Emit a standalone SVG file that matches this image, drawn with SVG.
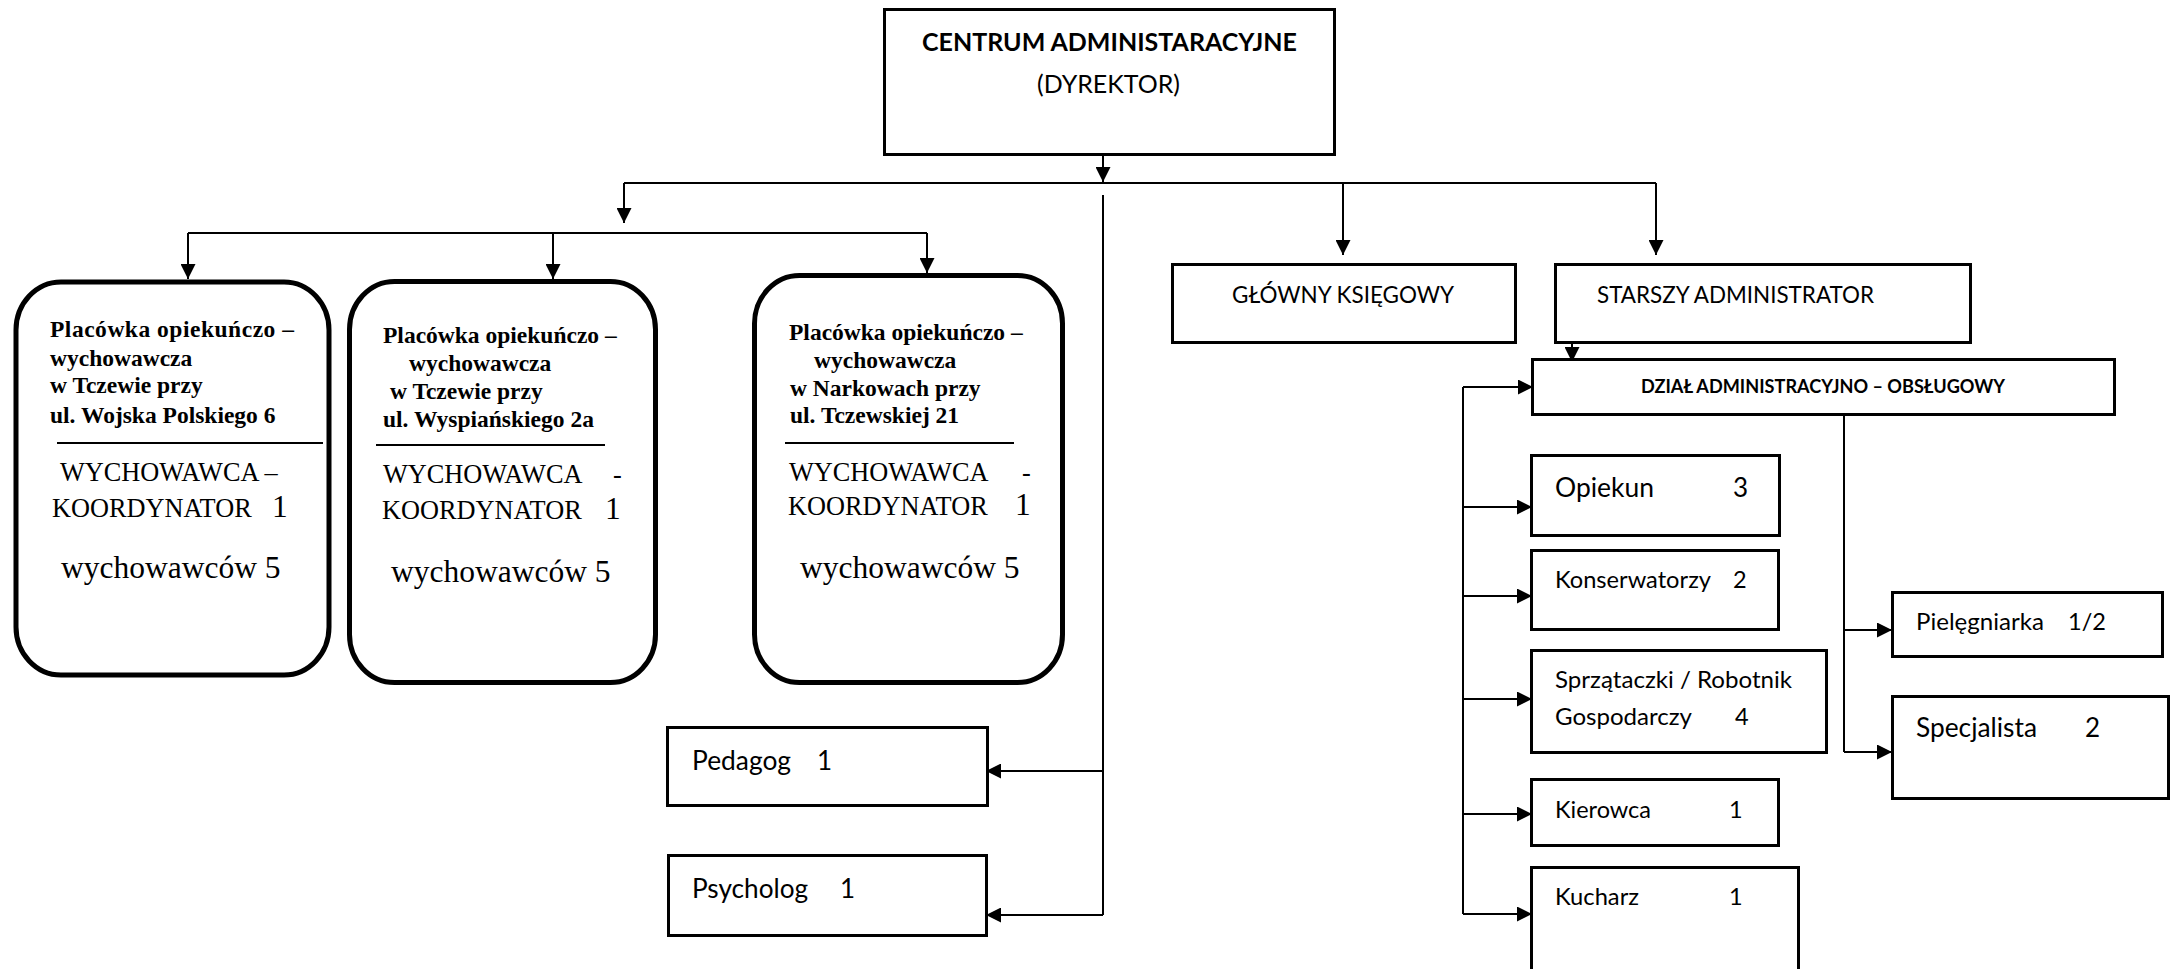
<svg xmlns="http://www.w3.org/2000/svg" width="2174" height="969" viewBox="0 0 2174 969">
<style>
.bx{fill:#fff;stroke:#000;stroke-width:3}
.rb{fill:#fff;stroke:#000;stroke-width:5}
.sep{stroke:#000;stroke-width:2}
.c{fill:none;stroke:#000;stroke-width:2}
.s{font-family:Lato,"Open Sans","Liberation Sans",sans-serif;fill:#000}
.sb{font-family:Lato,"Open Sans","Liberation Sans",sans-serif;font-weight:bold;fill:#000}
.tb{font-family:"Liberation Serif","Times New Roman",serif;font-weight:bold;font-size:23.5px;fill:#000}
.tr{font-family:"Liberation Serif","Times New Roman",serif;font-size:26.3px;fill:#000}
.tw{font-family:"Liberation Serif","Times New Roman",serif;font-size:31.5px;fill:#000}
</style>
<defs>
<marker id="arr" markerUnits="userSpaceOnUse" markerWidth="15" markerHeight="15" refX="15" refY="7.5" orient="auto">
<path d="M0,0 L15,7.5 L0,15 Z" fill="#000"/>
</marker>
</defs>

<g id="connectors">
<path class="c" d="M1103 147 V182" marker-end="url(#arr)"/>
<path class="c" d="M624 183 H1656"/>
<path class="c" d="M624 183 V223" marker-end="url(#arr)"/>
<path class="c" d="M188 233 H927"/>
<path class="c" d="M188 233 V279" marker-end="url(#arr)"/>
<path class="c" d="M553 233 V279" marker-end="url(#arr)"/>
<path class="c" d="M927 233 V273" marker-end="url(#arr)"/>
<path class="c" d="M1103 195 V915"/>
<path class="c" d="M1103 771 H986" marker-end="url(#arr)"/>
<path class="c" d="M1103 915 H986" marker-end="url(#arr)"/>
<path class="c" d="M1343 183 V255" marker-end="url(#arr)"/>
<path class="c" d="M1656 183 V255" marker-end="url(#arr)"/>
<path class="c" d="M1572 339 V362" marker-end="url(#arr)"/>
<path class="c" d="M1463 387 V914"/>
<path class="c" d="M1463 387 H1533" marker-end="url(#arr)"/>
<path class="c" d="M1463 507 H1532" marker-end="url(#arr)"/>
<path class="c" d="M1463 596 H1532" marker-end="url(#arr)"/>
<path class="c" d="M1463 699 H1532" marker-end="url(#arr)"/>
<path class="c" d="M1463 814 H1532" marker-end="url(#arr)"/>
<path class="c" d="M1463 914 H1532" marker-end="url(#arr)"/>
<path class="c" d="M1844 416 V752"/>
<path class="c" d="M1844 630 H1892" marker-end="url(#arr)"/>
<path class="c" d="M1844 752 H1892" marker-end="url(#arr)"/>
</g>

<g id="centrum">
<rect class="bx" x="884.5" y="9.5" width="450" height="145"/>
<text class="sb" x="922" y="51" font-size="24" textLength="375" lengthAdjust="spacingAndGlyphs">CENTRUM ADMINISTARACYJNE</text>
<text class="s" x="1037" y="92.5" font-size="25" textLength="143" lengthAdjust="spacingAndGlyphs">(DYREKTOR)</text>
</g>

<g id="placowka1">
<rect class="rb" x="16" y="282" width="313" height="393" rx="45" ry="48"/>
<text class="tb" x="50" y="337" textLength="244" lengthAdjust="spacing">Placówka opiekuńczo –</text>
<text class="tb" x="50" y="366">wychowawcza</text>
<text class="tb" x="50" y="393">w Tczewie przy</text>
<text class="tb" x="50" y="423">ul. Wojska Polskiego 6</text>
<line class="sep" x1="57" y1="443" x2="323" y2="443"/>
<text class="tr" x="60" y="481">WYCHOWAWCA –</text>
<text class="tr" x="52" y="517">KOORDYNATOR<tspan class="tw" x="272">1</tspan></text>
<text class="tw" x="61" y="578">wychowawców 5</text>
</g>

<g id="placowka2">
<rect class="rb" x="349.5" y="281.5" width="306" height="401" rx="45" ry="48"/>
<text class="tb" x="383" y="343">Placówka opiekuńczo –</text>
<text class="tb" x="409" y="371">wychowawcza</text>
<text class="tb" x="390" y="399">w Tczewie przy</text>
<text class="tb" x="383" y="427">ul. Wyspiańskiego 2a</text>
<line class="sep" x1="376" y1="445" x2="605" y2="445"/>
<text class="tr" x="383" y="483">WYCHOWAWCA<tspan x="613">-</tspan></text>
<text class="tr" x="382" y="519">KOORDYNATOR<tspan class="tw" x="605">1</tspan></text>
<text class="tw" x="391" y="582">wychowawców 5</text>
</g>

<g id="placowka3">
<rect class="rb" x="754.5" y="275.5" width="308" height="407" rx="45" ry="48"/>
<text class="tb" x="789" y="340">Placówka opiekuńczo –</text>
<text class="tb" x="814" y="368">wychowawcza</text>
<text class="tb" x="790" y="396">w Narkowach przy</text>
<text class="tb" x="790" y="423">ul. Tczewskiej 21</text>
<line class="sep" x1="785" y1="443" x2="1014" y2="443"/>
<text class="tr" x="789" y="481">WYCHOWAWCA<tspan x="1022">-</tspan></text>
<text class="tr" x="788" y="515">KOORDYNATOR<tspan class="tw" x="1015">1</tspan></text>
<text class="tw" x="800" y="578">wychowawców 5</text>
</g>

<g id="pedagog">
<rect class="bx" x="667.5" y="727.5" width="320" height="78"/>
<text class="s" x="692" y="770" font-size="26"><tspan textLength="99" lengthAdjust="spacingAndGlyphs">Pedagog</tspan><tspan x="817">1</tspan></text>
</g>

<g id="psycholog">
<rect class="bx" x="668.5" y="855.5" width="318" height="80"/>
<text class="s" x="692" y="898" font-size="26"><tspan textLength="116" lengthAdjust="spacingAndGlyphs">Psycholog</tspan><tspan x="840">1</tspan></text>
</g>

<g id="glowny-ksiegowy">
<rect class="bx" x="1172.5" y="264.5" width="343" height="78"/>
<text class="s" x="1232" y="303" font-size="23" textLength="222" lengthAdjust="spacingAndGlyphs">GŁÓWNY KSIĘGOWY</text>
</g>

<g id="starszy-administrator">
<rect class="bx" x="1555.5" y="264.5" width="415" height="78"/>
<text class="s" x="1597" y="303" font-size="23" textLength="277" lengthAdjust="spacingAndGlyphs">STARSZY ADMINISTRATOR</text>
</g>

<g id="dzial">
<rect class="bx" x="1532.5" y="359.5" width="582" height="55"/>
<text class="sb" x="1641" y="393" font-size="18.5" textLength="364" lengthAdjust="spacingAndGlyphs">DZIAŁ ADMINISTRACYJNO – OBSŁUGOWY</text>
</g>

<g id="opiekun">
<rect class="bx" x="1531.5" y="455.5" width="248" height="80"/>
<text class="s" x="1555" y="497" font-size="26"><tspan textLength="99" lengthAdjust="spacingAndGlyphs">Opiekun</tspan><tspan x="1733">3</tspan></text>
</g>

<g id="konserwatorzy">
<rect class="bx" x="1531.5" y="550.5" width="247" height="79"/>
<text class="s" x="1555" y="588" font-size="23.5"><tspan textLength="156" lengthAdjust="spacingAndGlyphs">Konserwatorzy</tspan><tspan x="1733">2</tspan></text>
</g>

<g id="sprzataczki">
<rect class="bx" x="1531.5" y="650.5" width="295" height="102"/>
<text class="s" x="1555" y="688" font-size="23.5" textLength="237" lengthAdjust="spacingAndGlyphs">Sprzątaczki / Robotnik</text>
<text class="s" x="1555" y="725" font-size="23.5"><tspan textLength="137" lengthAdjust="spacingAndGlyphs">Gospodarczy</tspan><tspan x="1735">4</tspan></text>
</g>

<g id="kierowca">
<rect class="bx" x="1531.5" y="779.5" width="247" height="66"/>
<text class="s" x="1555" y="818" font-size="23.5"><tspan textLength="96" lengthAdjust="spacingAndGlyphs">Kierowca</tspan><tspan x="1729">1</tspan></text>
</g>

<g id="kucharz">
<rect class="bx" x="1531.5" y="867.5" width="267" height="130"/>
<text class="s" x="1555" y="905" font-size="23.5"><tspan textLength="84" lengthAdjust="spacingAndGlyphs">Kucharz</tspan><tspan x="1729">1</tspan></text>
</g>

<g id="pielegniarka">
<rect class="bx" x="1892.5" y="592.5" width="270" height="64"/>
<text class="s" x="1916" y="630" font-size="23.5"><tspan textLength="128" lengthAdjust="spacingAndGlyphs">Pielęgniarka</tspan><tspan x="2068">1/2</tspan></text>
</g>

<g id="specjalista">
<rect class="bx" x="1892.5" y="696.5" width="276" height="102"/>
<text class="s" x="1916" y="737" font-size="26"><tspan textLength="121" lengthAdjust="spacingAndGlyphs">Specjalista</tspan><tspan x="2085">2</tspan></text>
</g>
</svg>
